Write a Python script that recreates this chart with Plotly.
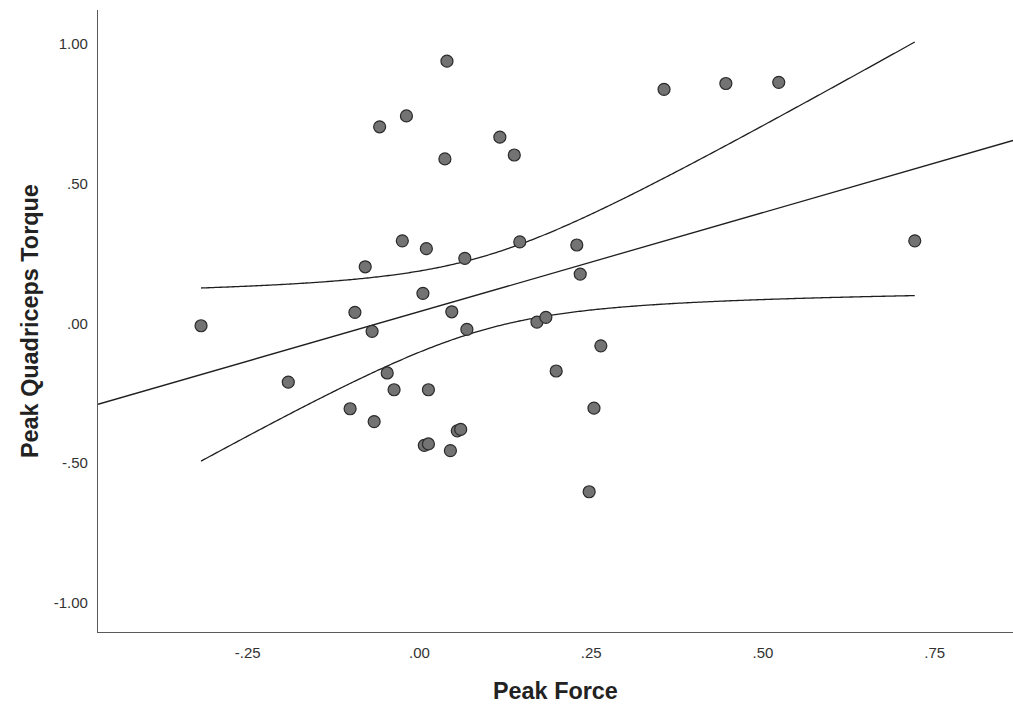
import numpy as np
import plotly.graph_objects as go

# Standardised residual scores per participant
peak_force = [
    0.040, -0.019, -0.058, 0.117, 0.037, 0.138, 0.356, 0.446, 0.523, -0.025,
    0.010, 0.066, 0.146, 0.229, 0.234, -0.079, 0.005, -0.094, 0.047, -0.069,
    0.069, 0.171, 0.184, 0.721, 0.264, 0.199, -0.047, -0.037, 0.013, -0.101,
    -0.066, 0.254, 0.055, 0.060, 0.007, 0.013, 0.045, 0.247, -0.318, -0.191,
]
peak_quad_torque = [
    0.939, 0.743, 0.704, 0.667, 0.589, 0.603, 0.838, 0.859, 0.863, 0.296,
    0.268, 0.233, 0.292, 0.281, 0.177, 0.203, 0.108, 0.040, 0.042, -0.028,
    -0.021, 0.005, 0.022, 0.296, -0.080, -0.170, -0.177, -0.237, -0.237, -0.305,
    -0.351, -0.303, -0.384, -0.379, -0.436, -0.431, -0.455, -0.602, -0.008, -0.210,
]

x_ticks = [-0.25, 0.0, 0.25, 0.50, 0.75]
x_tick_labels = ["-.25", ".00", ".25", ".50", ".75"]
y_ticks = [-1.0, -0.5, 0.0, 0.5, 1.0]
y_tick_labels = ["-1.00", "-.50", ".00", ".50", "1.00"]

X_RANGE = [-0.468, 0.864]
Y_RANGE = [-1.104, 1.122]

# Linear fit with 95% confidence interval for the mean
x = np.array(peak_force)
y = np.array(peak_quad_torque)
n = len(x)
slope, intercept = np.polyfit(x, y, 1)
resid = y - (intercept + slope * x)
s = np.sqrt(np.sum(resid ** 2) / (n - 2))
sxx = np.sum((x - x.mean()) ** 2)
t_crit = 2.024  # t(0.975, df=38)

fit_x = np.array(X_RANGE)
fit_y = intercept + slope * fit_x

ci_x = np.linspace(x.min(), x.max(), 400)
ci_mid = intercept + slope * ci_x
half = t_crit * s * np.sqrt(1.0 / n + (ci_x - x.mean()) ** 2 / sxx)

line_style = dict(color="#1f1f1f", width=1.3, simplify=False)

fig = go.Figure()
fig.add_trace(go.Scatter(x=fit_x, y=fit_y, mode="lines", line=line_style,
                         hoverinfo="skip", showlegend=False))
fig.add_trace(go.Scatter(x=ci_x, y=ci_mid + half, mode="lines", line=line_style,
                         hoverinfo="skip", showlegend=False))
fig.add_trace(go.Scatter(x=ci_x, y=ci_mid - half, mode="lines", line=line_style,
                         hoverinfo="skip", showlegend=False))
fig.add_trace(go.Scatter(
    x=peak_force, y=peak_quad_torque, mode="markers", showlegend=False,
    marker=dict(size=12, color="#737373", line=dict(color="#2a2a2a", width=1.2)),
))

font_family = "Liberation Sans, Arial, sans-serif"
tick_font = dict(family=font_family, size=15, color="#333333")
axis_common = dict(showgrid=False, zeroline=False, showline=True,
                   linecolor="#5a5a5a", linewidth=1.3, ticks="",
                   tickfont=tick_font, mirror=False)
title_font = dict(family=font_family, size=23.4, color="#222222")

fig.update_layout(
    width=1013, height=709,
    margin=dict(l=98, r=0, t=10, b=77),
    paper_bgcolor="white", plot_bgcolor="white",
    xaxis=dict(range=X_RANGE, tickvals=x_ticks, ticktext=x_tick_labels,
               ticklabelstandoff=7, **axis_common),
    yaxis=dict(range=Y_RANGE, tickvals=y_ticks, ticktext=y_tick_labels,
               ticklabelstandoff=6, **axis_common),
    annotations=[
        dict(text="<b>Peak Force</b>", xref="paper", yref="paper", x=0.5, y=0,
             xanchor="center", yanchor="middle", yshift=-59, showarrow=False,
             font=title_font),
        dict(text="<b>Peak Quadriceps Torque</b>", xref="paper", yref="paper", x=0, y=0.5,
             xanchor="center", yanchor="middle", xshift=-68, textangle=-90, showarrow=False,
             font=title_font),
    ],
)

fig.write_html("out.html")
